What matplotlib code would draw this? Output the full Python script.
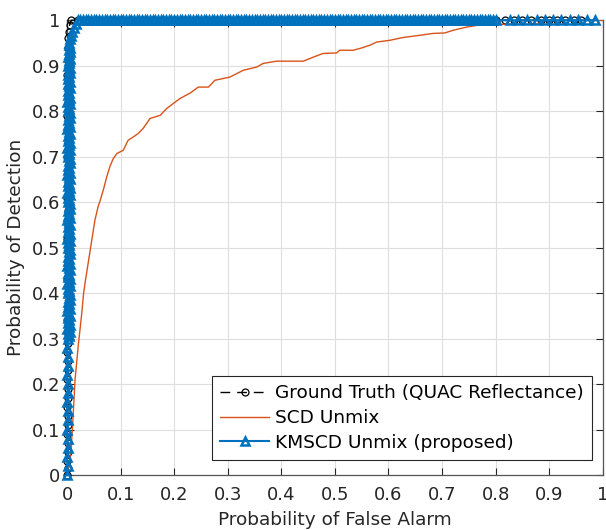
import numpy as np
import matplotlib
matplotlib.use('Agg')
import matplotlib.pyplot as plt

# ROC data
# ground truth: steep rise at fpr ~ 0, then flat at 1
gt_rise_fpr = [0.000, 0.001, 0.000, 0.002, 0.001, 0.000, 0.002, 0.001, 0.000, 0.002,
               0.001, 0.000, 0.002, 0.001, 0.000, 0.002, 0.001, 0.000, 0.002, 0.001,
               0.000, 0.002, 0.001, 0.000, 0.002, 0.001, 0.000, 0.002, 0.001, 0.000,
               0.002, 0.001, 0.000, 0.002, 0.001, 0.000, 0.002, 0.001, 0.002, 0.003,
               0.005, 0.008]
gt_rise_tpr = [0.000, 0.015, 0.030, 0.050, 0.070, 0.090, 0.110, 0.130, 0.150, 0.170,
               0.190, 0.210, 0.230, 0.250, 0.270, 0.290, 0.310, 0.340, 0.370, 0.400,
               0.430, 0.460, 0.490, 0.520, 0.550, 0.580, 0.610, 0.640, 0.670, 0.700,
               0.730, 0.760, 0.790, 0.820, 0.850, 0.880, 0.910, 0.940, 0.960, 0.975,
               0.990, 1.000]
gt_flat_fpr = [0.02, 0.04, 0.06, 0.08, 0.10, 0.12, 0.14, 0.16, 0.18, 0.20, 0.22, 0.24,
               0.26, 0.28, 0.30, 0.32, 0.34, 0.36, 0.38, 0.40, 0.42, 0.44, 0.46, 0.48,
               0.50, 0.52, 0.54, 0.56, 0.58, 0.60, 0.62, 0.64, 0.66, 0.68, 0.70, 0.72,
               0.74, 0.76, 0.78, 0.80,
               0.818, 0.834, 0.850, 0.867, 0.884, 0.900, 0.915, 0.930, 0.946, 0.960]

scd_fpr = [0.000, 0.006, 0.010, 0.015, 0.021, 0.027, 0.031, 0.034, 0.040, 0.046,
           0.052, 0.058, 0.062, 0.068, 0.074, 0.080, 0.086, 0.093, 0.105, 0.114,
           0.122, 0.133, 0.142, 0.155, 0.174, 0.186, 0.211, 0.230, 0.245, 0.264,
           0.276, 0.304, 0.329, 0.354, 0.366, 0.391, 0.441, 0.460, 0.478, 0.503,
           0.509, 0.534, 0.547, 0.565, 0.578, 0.603, 0.627, 0.659, 0.683, 0.705,
           0.721, 0.746, 0.777, 0.876, 0.890, 1.000]
scd_tpr = [0.000, 0.033, 0.100, 0.210, 0.285, 0.350, 0.400, 0.425, 0.470, 0.515,
           0.560, 0.590, 0.604, 0.628, 0.655, 0.678, 0.695, 0.707, 0.714, 0.736,
           0.742, 0.751, 0.762, 0.784, 0.791, 0.806, 0.828, 0.840, 0.853, 0.853,
           0.868, 0.875, 0.890, 0.897, 0.905, 0.910, 0.910, 0.919, 0.927, 0.928,
           0.934, 0.934, 0.938, 0.945, 0.952, 0.956, 0.962, 0.967, 0.971, 0.972,
           0.978, 0.985, 0.991, 0.991, 1.000, 1.000]

# KMSCD: sparse points at low detection, dense rise, knee, flat top
km_base_fpr = [0.000, 0.001, 0.000, 0.002, 0.001, 0.000, 0.002, 0.001, 0.000, 0.002,
               0.001, 0.000, 0.002, 0.001, 0.000]
km_base_tpr = [0.00, 0.02, 0.04, 0.06, 0.08, 0.10, 0.12, 0.14, 0.16, 0.18,
               0.20, 0.22, 0.24, 0.26, 0.28]
km_rise_fpr = [0.001, 0.004, 0.002, 0.005, 0.000, 0.003, 0.006, 0.002, 0.004, 0.001,
               0.005, 0.003, 0.000, 0.006, 0.002, 0.004, 0.001, 0.005, 0.003, 0.006,
               0.001, 0.004, 0.002, 0.005, 0.000, 0.003, 0.006, 0.002, 0.004, 0.001,
               0.005, 0.003, 0.000, 0.006, 0.002, 0.004, 0.001, 0.005, 0.003, 0.006,
               0.001, 0.004, 0.002, 0.005, 0.000, 0.003, 0.006, 0.002, 0.004, 0.001,
               0.005, 0.003, 0.000, 0.006, 0.002, 0.004, 0.001, 0.005, 0.003, 0.006,
               0.001, 0.004, 0.002, 0.005, 0.000, 0.003, 0.006, 0.002, 0.004, 0.001,
               0.005, 0.003, 0.000, 0.006, 0.002, 0.004, 0.001, 0.005, 0.003, 0.006,
               0.001, 0.004, 0.002, 0.005, 0.000, 0.003, 0.006, 0.002, 0.004, 0.001,
               0.005, 0.003, 0.000, 0.006, 0.002, 0.004, 0.001, 0.005, 0.003, 0.006,
               0.001, 0.004, 0.002, 0.005, 0.000, 0.003, 0.006, 0.002, 0.004, 0.001,
               0.005, 0.003, 0.001, 0.006, 0.002, 0.004, 0.001, 0.005, 0.003, 0.006,
               0.002, 0.004, 0.003, 0.005, 0.002, 0.004, 0.006, 0.003, 0.005, 0.004,
               0.004]
km_rise_tpr = [0.300, 0.305, 0.310, 0.315, 0.320, 0.325, 0.330, 0.335, 0.340, 0.345,
               0.350, 0.355, 0.360, 0.365, 0.370, 0.375, 0.380, 0.385, 0.390, 0.395,
               0.400, 0.405, 0.410, 0.415, 0.420, 0.425, 0.430, 0.435, 0.440, 0.445,
               0.450, 0.455, 0.460, 0.465, 0.470, 0.475, 0.480, 0.485, 0.490, 0.495,
               0.500, 0.505, 0.510, 0.515, 0.520, 0.525, 0.530, 0.535, 0.540, 0.545,
               0.550, 0.555, 0.560, 0.565, 0.570, 0.575, 0.580, 0.585, 0.590, 0.595,
               0.600, 0.605, 0.610, 0.615, 0.620, 0.625, 0.630, 0.635, 0.640, 0.645,
               0.650, 0.655, 0.660, 0.665, 0.670, 0.675, 0.680, 0.685, 0.690, 0.695,
               0.700, 0.705, 0.710, 0.715, 0.720, 0.725, 0.730, 0.735, 0.740, 0.745,
               0.750, 0.755, 0.760, 0.765, 0.770, 0.775, 0.780, 0.785, 0.790, 0.795,
               0.800, 0.805, 0.810, 0.815, 0.820, 0.825, 0.830, 0.835, 0.840, 0.845,
               0.850, 0.855, 0.860, 0.865, 0.870, 0.875, 0.880, 0.885, 0.890, 0.895,
               0.900, 0.905, 0.910, 0.915, 0.920, 0.925, 0.930, 0.935, 0.940, 0.945,
               0.950]
km_knee_fpr = [0.006, 0.008, 0.010, 0.013, 0.016, 0.020]
km_knee_tpr = [0.958, 0.966, 0.975, 0.984, 0.992, 1.000]
km_flat_fpr = [0.025, 0.030, 0.035, 0.040, 0.045, 0.050, 0.055, 0.060, 0.065, 0.070,
               0.075, 0.080, 0.085, 0.090, 0.095, 0.100, 0.105, 0.110, 0.115, 0.120,
               0.125, 0.130, 0.135, 0.140, 0.145, 0.150, 0.155, 0.160, 0.165, 0.170,
               0.175, 0.180, 0.185, 0.190, 0.195, 0.200, 0.205, 0.210, 0.215, 0.220,
               0.225, 0.230, 0.235, 0.240, 0.245, 0.250, 0.255, 0.260, 0.265, 0.270,
               0.275, 0.280, 0.285, 0.290, 0.295, 0.300, 0.305, 0.310, 0.315, 0.320,
               0.325, 0.330, 0.335, 0.340, 0.345, 0.350, 0.355, 0.360, 0.365, 0.370,
               0.375, 0.380, 0.385, 0.390, 0.395, 0.400, 0.405, 0.410, 0.415, 0.420,
               0.425, 0.430, 0.435, 0.440, 0.445, 0.450, 0.455, 0.460, 0.465, 0.470,
               0.475, 0.480, 0.485, 0.490, 0.495, 0.500, 0.505, 0.510, 0.515, 0.520,
               0.525, 0.530, 0.535, 0.540, 0.545, 0.550, 0.555, 0.560, 0.565, 0.570,
               0.575, 0.580, 0.585, 0.590, 0.595, 0.600, 0.605, 0.610, 0.615, 0.620,
               0.625, 0.630, 0.635, 0.640, 0.645, 0.650, 0.655, 0.660, 0.665, 0.670,
               0.675, 0.680, 0.685, 0.690, 0.695, 0.700, 0.705, 0.710, 0.715, 0.720,
               0.725, 0.730, 0.735, 0.740, 0.745, 0.750, 0.755, 0.760, 0.765, 0.770,
               0.775, 0.780, 0.785, 0.790, 0.795, 0.800,
               0.826, 0.841, 0.858, 0.877, 0.892, 0.907, 0.923, 0.938, 0.953, 0.970, 0.985]

# detection probability stays at 1 along the flat part
gt_fpr = gt_rise_fpr + gt_flat_fpr
gt_tpr = gt_rise_tpr + [1.0] * len(gt_flat_fpr)
km_fpr = km_base_fpr + km_rise_fpr + km_knee_fpr + km_flat_fpr
km_tpr = km_base_tpr + km_rise_tpr + km_knee_tpr + [1.0] * len(km_flat_fpr)

blue = '#0072BD'
orange = '#D95319'

fig = plt.figure(figsize=(6.06, 5.30), dpi=100)
ax = fig.add_axes([0.1106, 0.1038, 0.884, 0.858])

ax.plot(gt_fpr, gt_tpr, '--o', color='black', lw=1.0, ms=5, mfc='none', mew=0.9,
        dashes=(7, 5), label='Ground Truth (QUAC Reflectance)', clip_on=False, zorder=3)
ax.plot(scd_fpr, scd_tpr, '-', color=orange, lw=1.0, label='SCD Unmix', zorder=4)
ax.plot(km_fpr, km_tpr, '-^', color=blue, lw=1.5, ms=6, mfc='none', mew=1.8,
        label='KMSCD Unmix (proposed)', clip_on=False, zorder=5)

ax.set_xlim(0, 1)
ax.set_ylim(0, 1)
ticks = [0, 0.1, 0.2, 0.3, 0.4, 0.5, 0.6, 0.7, 0.8, 0.9, 1]
tick_labels = ['0', '0.1', '0.2', '0.3', '0.4', '0.5', '0.6', '0.7', '0.8', '0.9', '1']
ax.set_xticks(ticks)
ax.set_xticklabels(tick_labels)
ax.set_yticks(ticks)
ax.set_yticklabels(tick_labels)
ax.tick_params(direction='in', top=True, right=True, length=5, width=0.8,
               labelsize=13, colors='#262626')
ax.tick_params(axis='x', pad=8)
ax.tick_params(axis='y', pad=5)
ax.grid(True, color='#dedede', lw=0.8)
ax.set_axisbelow(True)
for s in ax.spines.values():
    s.set_color('#555555')
    s.set_linewidth(0.9)

ax.set_xlabel('Probability of False Alarm', fontsize=13.3, color='#262626', labelpad=5)
ax.set_ylabel('Probability of Detection', fontsize=13.3, color='#262626', labelpad=5)

leg = ax.legend(loc='lower right', bbox_to_anchor=(0.9795, 0.033), borderaxespad=0,
                fontsize=13.3, frameon=True, fancybox=False, edgecolor='#262626',
                framealpha=1, handlelength=2.65, borderpad=0.45,
                labelspacing=0.36, handletextpad=0.3)
leg.get_frame().set_linewidth(0.8)

fig.savefig('out.png', dpi=100)
